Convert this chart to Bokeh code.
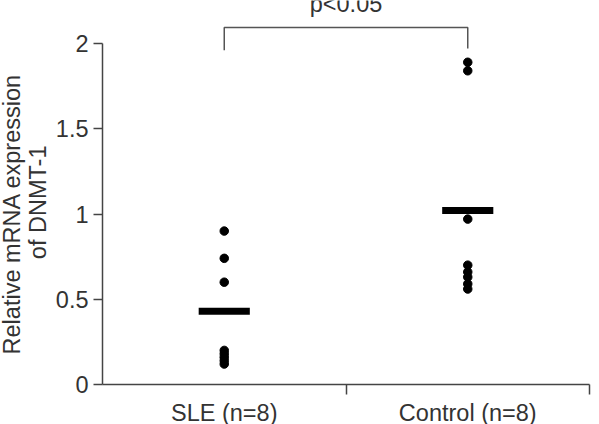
from bokeh.plotting import figure
from bokeh.models import Range1d, FixedTicker, Title
from bokeh.core.properties import value
from bokeh.embed import file_html
from bokeh.resources import INLINE

# Groups and their x positions on the category axis
groups = ["SLE (n=8)", "Control (n=8)"]
group_x = [0.5, 1.5]

# Relative DNMT-1 mRNA expression per subject
sle_values = [0.90, 0.74, 0.60, 0.20, 0.18, 0.16, 0.14, 0.12]
control_values = [1.89, 1.84, 0.97, 0.70, 0.66, 0.63, 0.59, 0.56]

# Group mean lines
group_means = [0.43, 1.02]

# Y-axis ticks
y_ticks = [0, 0.5, 1, 1.5, 2]
y_tick_labels = ["0", "0.5", "1", "1.5", "2"]

# Y-axis title (two lines) and significance annotation
y_title_lines = ["Relative mRNA expression", "of DNMT-1"]
p_text = "p<0.05"

FONT = "Liberation Sans"
FONT_PX = 23.5
TEXT_COLOR = "#333333"
AXIS_COLOR = "#444444"
PX_PER_UNIT = 170.5   # vertical pixels per expression unit
FRAME_H = 384

p = figure(
    frame_width=487, frame_height=FRAME_H,
    min_border_left=102, min_border_right=10,
    min_border_top=0, min_border_bottom=40,
    x_range=Range1d(0, 2), y_range=Range1d(0, FRAME_H / PX_PER_UNIT),
    output_backend="svg", toolbar_location=None,
)
p.outline_line_color = None
p.xgrid.visible = False
p.ygrid.visible = False
p.background_fill_color = "white"
p.border_fill_color = "white"

# Y axis, drawn only over 0-2
ya = p.yaxis[0]
ya.ticker = FixedTicker(ticks=y_ticks)
ya.major_label_overrides = {t: s for t, s in zip(y_ticks, y_tick_labels)}
ya.bounds = (0, 2)
ya.axis_line_color = AXIS_COLOR
ya.axis_line_width = 1.5
ya.major_tick_line_color = AXIS_COLOR
ya.major_tick_line_width = 1.5
ya.major_tick_out = 9
ya.major_tick_in = 0
ya.minor_tick_line_color = None
ya.major_label_standoff = 5
ya.axis_label_standoff = 0
ya.major_label_text_font = FONT
ya.major_label_text_font_size = f"{FONT_PX}px"
ya.major_label_text_color = TEXT_COLOR

# Y-axis title lines as left-side titles, centred on the 0-2 span
centre_px = FRAME_H - 1.0 * PX_PER_UNIT
approx_em = {"Relative mRNA expression": 11.947, "of DNMT-1": 4.889}
nudge = {"Relative mRNA expression": 0, "of DNMT-1": -11}
for txt in reversed(y_title_lines):
    half_len = approx_em[txt] * FONT_PX / 2
    p.add_layout(Title(
        text=txt, align="right", vertical_align="top",
        offset=centre_px - half_len + nudge[txt],
        standoff=-2.5, text_font=FONT, text_font_size=f"{FONT_PX}px",
        text_font_style="normal", text_color=TEXT_COLOR,
    ), "left")

# X axis: category labels at group centres, separators at the group edges
xa = p.xaxis[0]
xa.ticker = FixedTicker(ticks=group_x, minor_ticks=[1, 2])
xa.major_label_overrides = {x: g for x, g in zip(group_x, groups)}
xa.axis_line_color = AXIS_COLOR
xa.axis_line_width = 1.5
xa.major_tick_line_color = None
xa.major_tick_out = 0
xa.major_tick_in = 0
xa.minor_tick_line_color = AXIS_COLOR
xa.minor_tick_line_width = 1.5
xa.minor_tick_out = 10
xa.minor_tick_in = 0
xa.major_label_standoff = 5
xa.axis_label_standoff = 0
xa.major_label_text_font = FONT
xa.major_label_text_font_size = f"{FONT_PX}px"
xa.major_label_text_color = TEXT_COLOR

# Individual subjects
p.scatter([group_x[0]] * len(sle_values), sle_values, size=8.5,
          fill_color="black", line_color="black")
p.scatter([group_x[1]] * len(control_values), control_values, size=8.5,
          fill_color="black", line_color="black")

# Mean bars
half = 0.105
p.segment(x0=[x - half for x in group_x], y0=group_means,
          x1=[x + half for x in group_x], y1=group_means,
          line_color="black", line_width=7, line_cap="butt")

# Significance bracket
bracket_top = 2.094
p.line([group_x[0], group_x[0], group_x[1], group_x[1]],
       [1.96, bracket_top, bracket_top, 1.97],
       line_color="#555555", line_width=1.5)
p.text(x=[1.0], y=[2.232], text=[p_text], text_align="center",
       text_baseline="alphabetic", text_font=value(FONT),
       text_font_size=f"{FONT_PX}px", text_color=TEXT_COLOR)

open("out.html", "w").write(file_html(p, INLINE))
